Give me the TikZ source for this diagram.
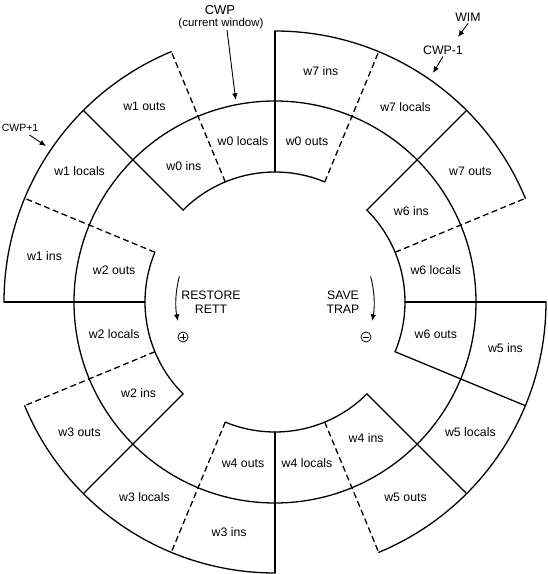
\documentclass[tikz,border=0pt]{standalone}
\usepackage{fontspec}
\setmainfont{Liberation Sans}
\usetikzlibrary{arrows.meta}
\begin{document}
\begin{tikzpicture}[x=1pt,y=1pt,
  ring/.style={line width=1.3pt,line cap=round},
  seam/.style={line width=1.3pt,line cap=round},
  dseam/.style={line width=1.3pt,dash pattern=on 6pt off 3.5pt},
  lbl/.style={font=\fontsize{12.3}{14}\selectfont,inner sep=0pt},
  note/.style={font=\fontsize{12.3}{14.5}\selectfont,inner sep=0pt},
  bignote/.style={font=\fontsize{13}{15}\selectfont,inner sep=0pt},
  subnote/.style={font=\fontsize{11.5}{13}\selectfont,inner sep=0pt},
  smallnote/.style={font=\fontsize{10.5}{12}\selectfont,inner sep=0pt},
  ptr/.style={line width=0.9pt,-{Latex[length=6.5pt,width=5.5pt]}},
  sign/.style={circle,draw,line width=0.8pt,inner sep=0pt,minimum size=10pt},
  signbar/.style={line width=0.8pt}]
\useasboundingbox (-275,-272) rectangle (273,302);
% rings
\draw[ring] (0,0) circle[radius=201pt];
\foreach \a in {67.5,157.5,247.5,337.5}
  \draw[ring] (\a:130) arc[start angle=\a, delta angle=67.5, radius=130pt];
\foreach \a in {22.5,112.5,202.5,292.5}
  \draw[ring] (\a:271) arc[start angle=\a, delta angle=67.5, radius=271pt];
% radial separators
\foreach \a in {0,45,90,135,180,225,270,315,337.5}
  \draw[seam] (\a:130) -- (\a:271);
\foreach \a in {22.5,67.5,112.5,157.5,202.5,247.5,292.5}
  \draw[dseam] (\a:130) -- (\a:271);
% inner ring labels
\foreach \a/\n/\t in {78.75/w0o/w0 outs,101.25/w0l/w0 locals,123.75/w0i/w0 ins,
  168.75/w2o/w2 outs,191.25/w2l/w2 locals,213.75/w2i/w2 ins,
  258.75/w4o/w4 outs,281.25/w4l/w4 locals,303.75/w4i/w4 ins,
  348.75/w6o/w6 outs,11.25/w6l/w6 locals,33.75/w6i/w6 ins}
  \node[lbl] (\n) at (\a:164) {\t};
% outer ring labels
\foreach \a/\n/\t in {33.75/w7o/w7 outs,56.25/w7l/w7 locals,78.75/w7i/w7 ins,
  123.75/w1o/w1 outs,146.25/w1l/w1 locals,168.75/w1i/w1 ins,
  213.75/w3o/w3 outs,236.25/w3l/w3 locals,258.75/w3i/w3 ins,
  303.75/w5o/w5 outs,326.25/w5l/w5 locals,348.75/w5i/w5 ins}
  \node[lbl] (\n) at (\a:235) {\t};
% pointers
\node[bignote] (cwp) at (-55,292) {CWP};
\node[subnote] (cwpsub) at (-54,278.5) {(current window)};
\coordinate (cwptip) at (101:206);
\draw[ptr] ([xshift=6pt,yshift=-1pt]cwpsub.south) -- (cwptip);
\node[smallnote] (cwpp) at (-255,174) {CWP+1};
\coordinate (cwpptip) at (-229,156);
\draw[ptr] ([shift={(-9pt,-3pt)}]cwpp.south east) -- (cwpptip);
\node[note] (wim) at (193,285) {WIM};
\coordinate (wimtip) at (183,265);
\draw[ptr] ([yshift=-2pt]wim.south) -- (wimtip);
\node[note] (cwpm) at (168,252) {CWP-1};
\coordinate (cwpmtip) at (158,229);
\draw[ptr] ([yshift=-2pt]cwpm.south) -- (cwpmtip);
% restore / save
\node[note,align=center] (restore) at (-64,0) {RESTORE\\RETT};
\draw[ptr] (165:99) arc[start angle=165, end angle=191, radius=99pt];
\node[sign] (plus) at (-92,-35) {};
\draw[signbar] ([xshift=-2.6pt]plus.center) -- ([xshift=2.6pt]plus.center)
  ([yshift=-2.6pt]plus.center) -- ([yshift=2.6pt]plus.center);
\node[note,align=center] (save) at (68,0) {SAVE\\TRAP};
\draw[ptr] (15:99) arc[start angle=15, end angle=-11, radius=99pt];
\node[sign] (minus) at (91,-35) {};
\draw[signbar] ([xshift=-2.6pt]minus.center) -- ([xshift=2.6pt]minus.center);
\end{tikzpicture}
\end{document}
